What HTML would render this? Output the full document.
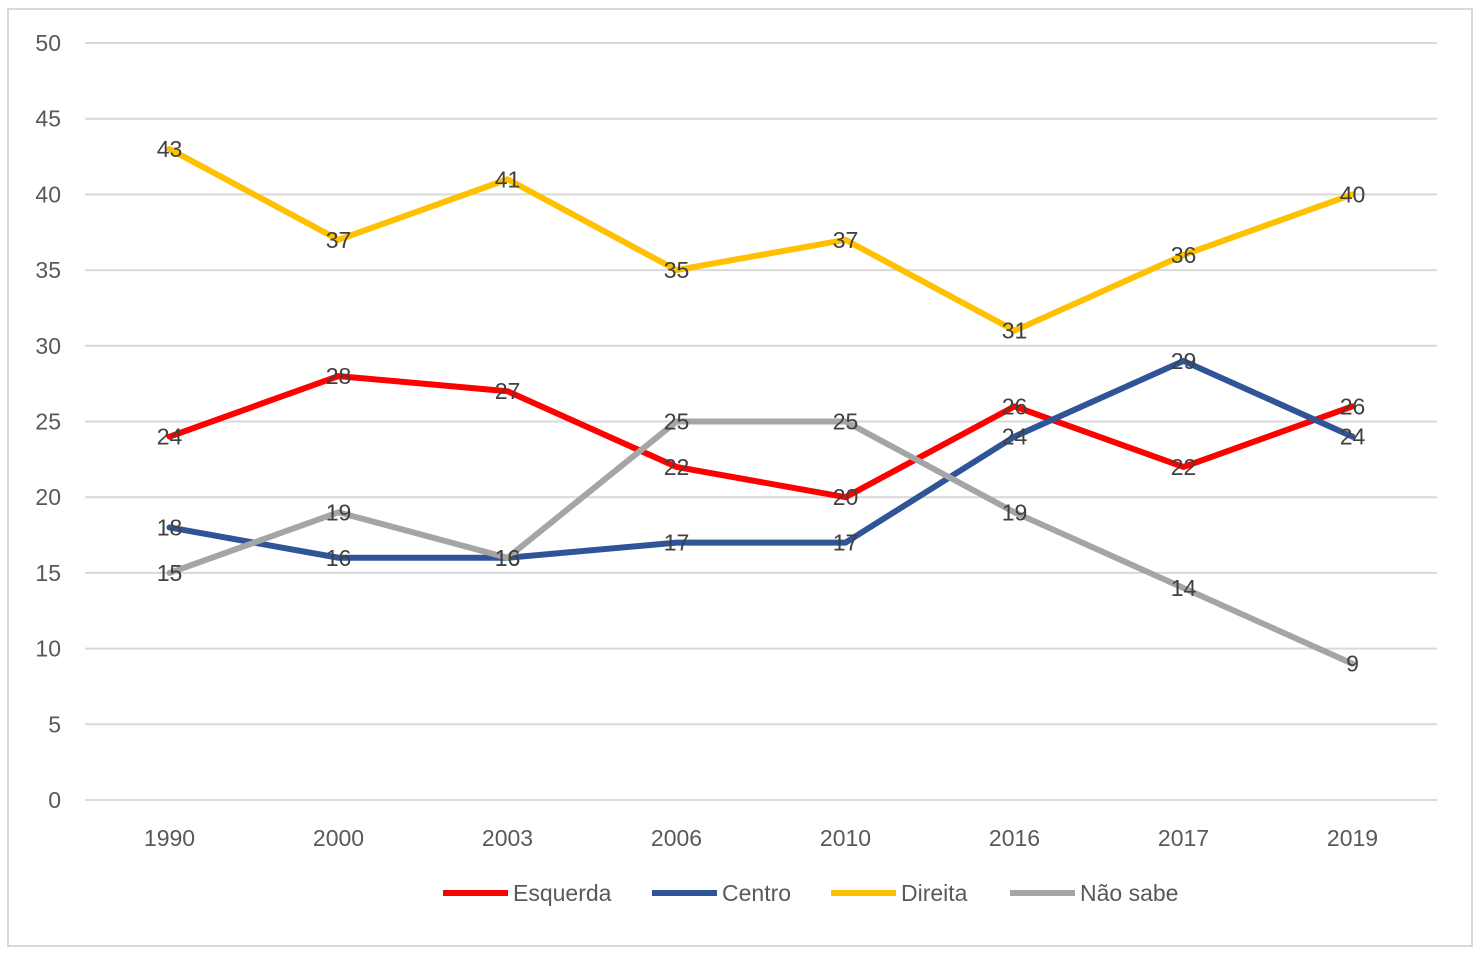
<!DOCTYPE html>
<html><head><meta charset="utf-8"><style>
body{margin:0;background:#fff;}
svg{display:block;font-family:"Liberation Sans",sans-serif;}
</style></head><body>
<svg id="chart" width="1480" height="954">
<rect x="8" y="9" width="1464" height="937" fill="#fff" stroke="#d9d9d9" stroke-width="2"/>
<g id="grid"></g><g id="xlabels"></g><g id="lines"></g><g id="labels"></g><g id="legend"></g>
</svg>
<script>
const categories=["1990","2000","2003","2006","2010","2016","2017","2019"];
const esquerda=[24,28,27,22,20,26,22,26];
const centro=[18,16,16,17,17,24,29,24];
const direita=[43,37,41,35,37,31,36,40];
const naoSabe=[15,19,16,25,25,19,14,9];
const yTicks=[0,5,10,15,20,25,30,35,40,45,50];
const seriesNames=["Esquerda","Centro","Direita","Não sabe"];
const seriesColors=["#ff0000","#2f5597","#ffc000","#a5a5a5"];
const seriesData=[esquerda,centro,direita,naoSabe];
const NS="http://www.w3.org/2000/svg";
const L=85,R=1437,T=43,B=800;
const y=v=>B-(v/50)*(B-T);
const x=i=>L+(R-L)/categories.length*(i+0.5);
function mk(t,a,p){const e=document.createElementNS(NS,t);for(const k in a)e.setAttribute(k,a[k]);p.appendChild(e);return e;}
const grid=document.getElementById('grid');
yTicks.forEach(v=>{
 const l=mk('line',{x1:L,x2:R,y1:y(v),y2:y(v),stroke:'#d9d9d9','stroke-width':2},grid);
 
 
 const t=mk('text',{x:61,y:y(v)+8,'text-anchor':'end','font-size':23,fill:'#595959'},grid);
 t.textContent=v;
 
 
});
const xl=document.getElementById('xlabels');
categories.forEach((c,i)=>{
 const t=mk('text',{x:x(i),y:846,'text-anchor':'middle','font-size':23,fill:'#595959'},xl);
 t.textContent=c;
 
 
});
const lines=document.getElementById('lines'),labs=document.getElementById('labels');
seriesData.forEach((d,s)=>{
 const p=mk('polyline',{points:d.map((v,i)=>x(i)+','+y(v)).join(' '),fill:'none',stroke:seriesColors[s],'stroke-width':6,'stroke-linejoin':'round','stroke-linecap':'round'},lines);
 
 
 d.forEach((v,i)=>{
  const t=mk('text',{x:x(i),y:y(v)+8,'text-anchor':'middle','font-size':23,fill:'#404040'},labs);
  t.textContent=v;
  
  
 });
});
const lg=document.getElementById('legend');
const lx=[443,652,831,1010];
seriesNames.forEach((n,s)=>{
 const g=mk('g',{},lg);
 
 
 mk('line',{x1:lx[s],x2:lx[s]+65,y1:893,y2:893,stroke:seriesColors[s],'stroke-width':6},g);
 const t=mk('text',{x:lx[s]+70,y:901,'font-size':23,fill:'#595959'},g);
 t.textContent=n;
});
</script>
</body></html>
